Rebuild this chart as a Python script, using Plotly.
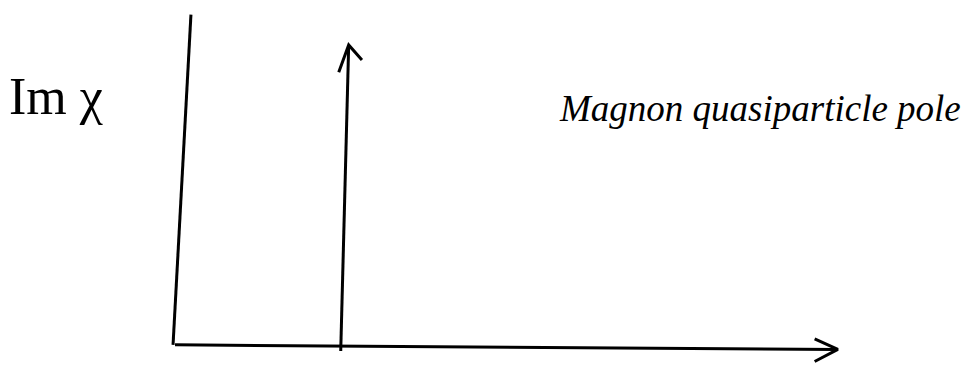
import plotly.graph_objects as go

# sketch data: frequency axis, Im chi axis, single magnon pole (delta function)
freq_axis = [0.0, 10.0]
chi_axis_top = 1.1
pole_freq = 2.5
pole_height = 1.0

labels = ["Im χ", "Magnon quasiparticle pole"]

ink = "black"
lw = 3

fig = go.Figure()

# vertical axis (Im chi)
fig.add_trace(go.Scatter(x=[freq_axis[0] - 0.03, freq_axis[0] + 0.24], y=[0.01, chi_axis_top],
                         mode="lines", line=dict(color=ink, width=lw)))
# horizontal axis (frequency) with open arrowhead
fig.add_trace(go.Scatter(x=[freq_axis[0], freq_axis[1]], y=[0.01, -0.005],
                         mode="lines", line=dict(color=ink, width=lw)))
fig.add_trace(go.Scatter(x=[freq_axis[1] - 0.35, freq_axis[1], freq_axis[1] - 0.35],
                         y=[0.03, -0.005, -0.045],
                         mode="lines", line=dict(color=ink, width=lw)))
# pole arrow
fig.add_trace(go.Scatter(x=[pole_freq, pole_freq + 0.12], y=[-0.01, pole_height],
                         mode="lines", line=dict(color=ink, width=lw)))
fig.add_trace(go.Scatter(x=[pole_freq - 0.03, pole_freq + 0.12, pole_freq + 0.32],
                         y=[pole_height - 0.09, pole_height, pole_height - 0.05],
                         mode="lines", line=dict(color=ink, width=lw)))

fig.add_annotation(x=-1.8, y=0.83, text=labels[0], showarrow=False,
                   font=dict(family="Liberation Serif", size=52, color=ink))
fig.add_annotation(x=8.82, y=0.79, text="<i>" + labels[1] + "</i>", showarrow=False,
                   font=dict(family="Liberation Serif", size=37, color=ink))

# page body keeps its default 8px margin, so the ranges are offset by that much
fig.update_layout(
    width=975, height=372,
    margin=dict(l=0, r=0, t=0, b=0),
    paper_bgcolor="white", plot_bgcolor="white",
    showlegend=False,
    xaxis=dict(range=[-2.52, 12.19], visible=False),
    yaxis=dict(range=[-0.106, 1.122], visible=False),
)

fig.write_html("out.html")
